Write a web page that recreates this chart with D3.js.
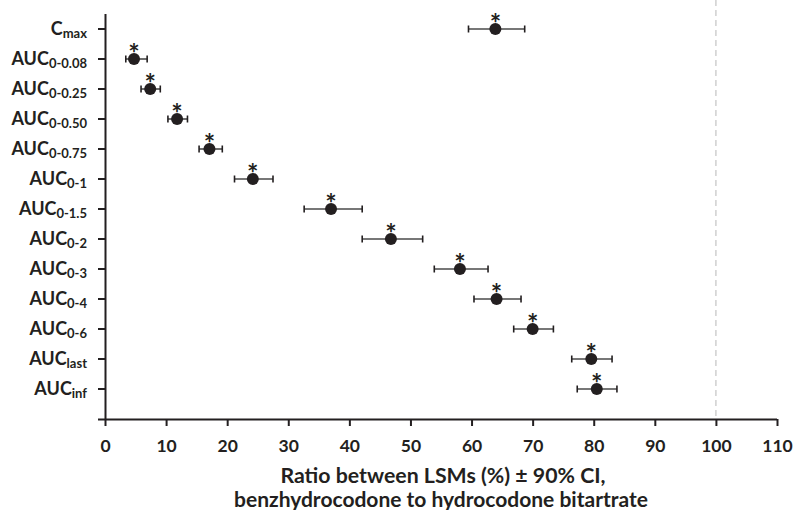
<!DOCTYPE html>
<html><head><meta charset="utf-8">
<script src="https://cdn.jsdelivr.net/npm/d3@7"></script>
<style>body{margin:0;background:#fff;} svg{display:block;font-family:Lato, "Open Sans", sans-serif;}</style>
</head><body><svg id="c" width="796" height="510"></svg>
<script>
const categories = [
  {main:"C", sub:"max"},
  {main:"AUC", sub:"0-0.08"},
  {main:"AUC", sub:"0-0.25"},
  {main:"AUC", sub:"0-0.50"},
  {main:"AUC", sub:"0-0.75"},
  {main:"AUC", sub:"0-1"},
  {main:"AUC", sub:"0-1.5"},
  {main:"AUC", sub:"0-2"},
  {main:"AUC", sub:"0-3"},
  {main:"AUC", sub:"0-4"},
  {main:"AUC", sub:"0-6"},
  {main:"AUC", sub:"last"},
  {main:"AUC", sub:"inf"}
];
const ratio = [63.9, 4.75, 7.4, 11.8, 17.1, 24.2, 37.0, 46.8, 58.1, 64.1, 70.0, 79.6, 80.5];
const ciLow = [59.5, 3.4, 5.9, 10.3, 15.4, 21.2, 32.6, 42.1, 53.9, 60.4, 66.9, 76.4, 77.3];
const ciHigh = [68.7, 6.9, 9.05, 13.5, 19.2, 27.5, 42.1, 52.0, 62.7, 68.1, 73.4, 83.0, 83.8];
const xTicks = [0,10,20,30,40,50,60,70,80,90,100,110];
const refLine = 100;
const xTitle = ["Ratio between LSMs (%) \u00b1 90% CI,", "benzhydrocodone to hydrocodone bitartrate"];

(function(){
const svg = d3.select("#c");
const mLeft = 105, mRight = 777, mTop = 14, axisY = 419;
const ink = "#231f20";
const x = d3.scaleLinear().domain([0,110]).range([mLeft,mRight]);
const keys = categories.map((d,i)=>i);
const y = d3.scaleBand().domain(keys).range([mTop, mTop + 30*categories.length]).padding(0);
const cy = i => y(i) + y.bandwidth()/2;

svg.append("line").attr("x1",x(refLine)).attr("x2",x(refLine)).attr("y1",0).attr("y2",axisY)
  .attr("stroke","#c8c8c8").attr("stroke-width",1.3).attr("stroke-dasharray","6,4");

const xa = svg.append("g").attr("transform",`translate(0,${axisY})`)
  .call(d3.axisBottom(x).tickValues(xTicks).tickSize(7).tickPadding(14).tickFormat(d3.format("d")));
xa.select(".domain").attr("d",`M${mLeft-7},0.5H${mRight}`).attr("stroke",ink).attr("stroke-width",2);
xa.selectAll(".tick line").attr("stroke",ink).attr("stroke-width",2);
xa.selectAll(".tick text").attr("font-size",17.5).attr("font-weight",700).attr("fill",ink)
  .attr("font-family","Lato, sans-serif");

const ya = svg.append("g").attr("transform",`translate(${mLeft},0)`)
  .call(d3.axisLeft(y).tickSize(7).tickPadding(12).tickFormat(""));
ya.select(".domain").attr("d",`M0.5,${mTop}V${axisY}`).attr("stroke",ink).attr("stroke-width",2);
ya.selectAll(".tick line").attr("stroke",ink).attr("stroke-width",2);
ya.selectAll(".tick").each(function(i){
  const t = d3.select(this).select("text").attr("x",-18).attr("font-size",18).attr("dy","0.36em")
    .attr("text-anchor","end").attr("font-weight",700).attr("fill",ink)
    .attr("font-family","Lato, sans-serif");
  t.append("tspan").attr("font-size",18).text(categories[i].main);
  t.append("tspan").attr("font-size",13).attr("dy",2.5).text(categories[i].sub);
});

const eb = svg.append("g").selectAll(".eb").data(keys).join("g");
eb.append("line").attr("x1",i=>x(ciLow[i])).attr("x2",i=>x(ciHigh[i])).attr("y1",cy).attr("y2",cy)
  .attr("stroke","#4a4a4a").attr("stroke-width",1.6);
eb.append("line").attr("x1",i=>x(ciLow[i])).attr("x2",i=>x(ciLow[i])).attr("y1",i=>cy(i)-3.5).attr("y2",i=>cy(i)+3.5)
  .attr("stroke",ink).attr("stroke-width",1.6);
eb.append("line").attr("x1",i=>x(ciHigh[i])).attr("x2",i=>x(ciHigh[i])).attr("y1",i=>cy(i)-3.5).attr("y2",i=>cy(i)+3.5)
  .attr("stroke",ink).attr("stroke-width",1.6);
eb.append("circle").attr("cx",i=>x(ratio[i])).attr("cy",cy).attr("r",6).attr("fill",ink);
eb.append("text").attr("x",i=>x(ratio[i])).attr("y",i=>cy(i)+4).attr("text-anchor","middle")
  .attr("font-size",27).attr("font-weight",700).attr("fill",ink).attr("font-family","Lato, sans-serif").text("*");

svg.append("text").attr("x",(mLeft+mRight)/2+2).attr("y",483).attr("text-anchor","middle")
  .attr("font-size",21.3).attr("font-weight",700).attr("fill",ink).attr("font-family","Lato, sans-serif").text(xTitle[0]);
svg.append("text").attr("x",(mLeft+mRight)/2).attr("y",507).attr("text-anchor","middle")
  .attr("font-size",21).attr("font-weight",700).attr("fill",ink).attr("font-family","Lato, sans-serif").text(xTitle[1]);
})();
</script></body></html>
